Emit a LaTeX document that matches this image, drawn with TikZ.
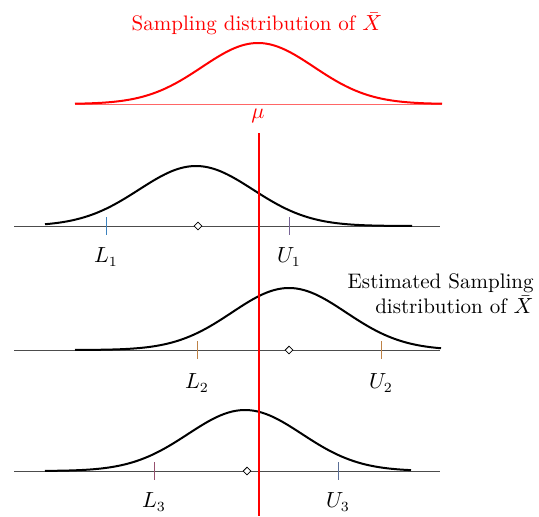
\documentclass[tikz,border=0pt]{standalone}
\usetikzlibrary{shapes.geometric}
\definecolor{tickA}{RGB}{60,130,190}
\definecolor{tickB}{RGB}{120,100,150}
\definecolor{tickC}{RGB}{190,130,70}
\definecolor{tickD}{RGB}{150,80,110}
\definecolor{tickE}{RGB}{90,110,150}
\begin{document}
\begin{tikzpicture}[x=0.5pt,y=-0.5pt,
  every node/.style={font=\fontsize{10.5}{12.6}\selectfont},
  curve/.style={line width=1pt,black},
  axisline/.style={line width=0.4pt,black!70},
  tk/.style={line width=0.5pt},
  est/.style={diamond,draw=black,fill=white,line width=0.4pt,minimum size=4pt,inner sep=0pt},
  lbl/.style={inner sep=1pt}]
\useasboundingbox (0,0) rectangle (539,516);
% top sampling distribution
\node[red, lbl] (title) at (257,24) {Sampling distribution of $\bar{X}$};
\draw[red!60, line width=0.5pt] (75,104) -- (442,104);
\draw[red, line width=1pt] plot[domain=75:442, samples=120, smooth] (\x,{104-61*exp(-((\x-258)/56)^2/2)});
\node[red, lbl] (mu) at (258,116) {$\mu$};
% row 1
\coordinate (a1) at (14,226);
\coordinate (b1) at (440,226);
\draw[axisline] (a1) -- (b1);
\draw[curve] plot[domain=45:412, samples=120, smooth] (\x,{226-60*exp(-((\x-196)/57)^2/2)});
\draw[tk, tickA] (106,217) -- (106,235);
\draw[tk, tickB] (289,217) -- (289,235);
\node[est] (e1) at (198,226) {};
\node[lbl] (L1) at (106,257) {$L_1$};
\node[lbl] (U1) at (289,257) {$U_1$};
% row 2
\coordinate (a2) at (14,350);
\coordinate (b2) at (440,350);
\draw[axisline] (a2) -- (b2);
\draw[curve] plot[domain=75:441, samples=120, smooth] (\x,{350-62*exp(-((\x-289)/57)^2/2)});
\draw[tk, tickC] (197,341) -- (197,359);
\draw[tk, tickC] (381,341) -- (381,359);
\node[est] (e2) at (289,350) {};
\node[lbl] (L2) at (197,383) {$L_2$};
\node[lbl] (U2) at (381,383) {$U_2$};
\node[align=right, anchor=east, inner sep=0pt] (estlbl) at (534,294) {Estimated Sampling\\distribution of $\bar{X}$};
% row 3
\coordinate (a3) at (14,471);
\coordinate (b3) at (440,471);
\draw[axisline] (a3) -- (b3);
\draw[curve] plot[domain=45:411, samples=120, smooth] (\x,{471-61*exp(-((\x-245)/57)^2/2)});
\draw[tk, tickD] (154,462) -- (154,480);
\draw[tk, tickE] (338,462) -- (338,480);
\node[est] (e3) at (247,471) {};
\node[lbl] (L3) at (154,502) {$L_3$};
\node[lbl] (U3) at (338,502) {$U_3$};
% true mean line
\coordinate (mtop) at (259,133);
\coordinate (mbot) at (259,516);
\draw[red, line width=1pt] (mtop) -- (mbot);
\end{tikzpicture}
\end{document}
